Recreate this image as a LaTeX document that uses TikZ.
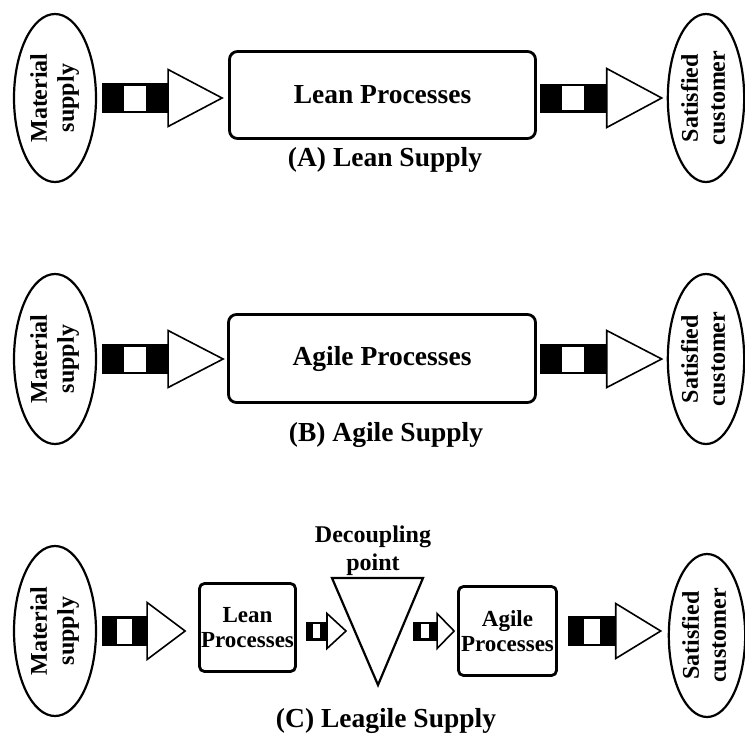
\documentclass[tikz,border=0pt]{standalone}
\usepackage{fontspec}
\setmainfont{Liberation Serif}
\usetikzlibrary{calc,shapes.geometric}

\newcommand{\flowarrow}[5]{%
  \fill let \p1=#1, \p2=#2, \n1={\x2-#5pt} in
    (\x1,{\y1-#3pt}) rectangle (\n1,{\y1+#3pt});
  \fill[white] let \p1=#1, \p2=#2, \n1={\x2-#5pt}, \n2={(\n1-\x1)/3} in
    ({\x1+\n2},{\y1-#3pt+2.5pt}) rectangle ({\x1+2*\n2},{\y1+#3pt-2.5pt});
  \filldraw[fill=white,line width=1.6pt,line join=miter] let \p1=#1, \p2=#2, \n1={\x2-#5pt} in
    (\n1,{\y1+#4pt}) -- (\x2,\y1) -- (\n1,{\y1-#4pt}) -- cycle;}

\begin{document}
\begin{tikzpicture}[x=1pt,y=-1pt,
  endpoint/.style={draw,ellipse,line width=2.2pt,inner sep=0pt,minimum width=82pt,minimum height=168pt,
    font=\fontsize{24}{27}\selectfont\bfseries},
  procbox/.style={draw,rounded corners=8pt,line width=2.8pt,minimum width=306pt,minimum height=87pt,
    font=\fontsize{27.5}{30}\selectfont\bfseries},
  smallbox/.style={draw,rounded corners=5pt,line width=2.8pt,inner sep=0pt,align=center,minimum width=96pt,
    minimum height=88pt,font=\fontsize{23}{25}\selectfont\bfseries},
  caption/.style={font=\fontsize{27.5}{30}\selectfont\bfseries}]
  \useasboundingbox (0,0) rectangle (745,740);
  % (A)
  \node[endpoint] (ms1) at (55,98) {\rotatebox{90}{\begin{tabular}{@{}c@{}}Material\\supply\end{tabular}}};
  \node[procbox] (lp1) at (382.5,95) {Lean Processes};
  \node[endpoint,minimum width=74pt] (sc1) at (706,98) {\rotatebox{90}{\begin{tabular}{@{}c@{}}Satisfied\\customer\end{tabular}}};
  \node[caption] (capa) at (385,160) {(A) Lean Supply};
  \flowarrow{($(ms1.east)+(5,0)$)}{($(lp1.west)+(-6,0)$)}{15}{28.5}{54}
  \flowarrow{($(lp1.east|-ms1)+(3,0)$)}{($(sc1.west)+(-5,0)$)}{14.5}{29.5}{55}
  % (B)
  \node[endpoint,minimum height=170pt] (ms2) at (55,359) {\rotatebox{90}{\begin{tabular}{@{}c@{}}Material\\supply\end{tabular}}};
  \node[procbox,minimum width=307pt,minimum height=88pt] (ap2) at (382,358.5) {Agile Processes};
  \node[endpoint,minimum width=74pt,minimum height=170pt] (sc2) at (706,359) {\rotatebox{90}{\begin{tabular}{@{}c@{}}Satisfied\\customer\end{tabular}}};
  \node[caption] (capb) at (386,435) {(B) Agile Supply};
  \flowarrow{($(ms2.east)+(5,0)$)}{($(ap2.west)+(-4,0)$)}{15}{28.5}{55}
  \flowarrow{($(ap2.east|-ms2)+(3,0)$)}{($(sc2.west)+(-5,0)$)}{15}{28.5}{55}
  % (C)
  \node[endpoint,minimum height=170pt] (ms3) at (55,631) {\rotatebox{90}{\begin{tabular}{@{}c@{}}Material\\supply\end{tabular}}};
  \node[smallbox] (lp3) at (247.5,627.5) {Lean\\Processes};
  \coordinate (dpa) at (332,578);
  \coordinate (dpb) at (423,578);
  \coordinate (dpc) at (378,685);
  \draw[line width=2.2pt,line join=miter] (dpa) -- (dpb) -- (dpc) -- cycle;
  \coordinate (dpin) at (346,631);
  \coordinate (dpout) at (413,631);
  \node[font=\fontsize{24}{28}\selectfont\bfseries,align=center] (dplabel) at (373,551) {Decoupling\\point};
  \node[smallbox,minimum width=98pt,minimum height=89pt] (ap3) at (507.5,631) {Agile\\Processes};
  \node[endpoint,minimum width=72pt,minimum height=163pt] (sc3) at (707,635.5) {\rotatebox{90}{\begin{tabular}{@{}c@{}}Satisfied\\customer\end{tabular}}};
  \node[caption] (capc) at (386,721) {(C) Leagile Supply};
  \flowarrow{($(ms3.east)+(5,0)$)}{($(lp3.west|-ms3)+(-13,0)$)}{15}{28.5}{38}
  \flowarrow{($(lp3.east|-ms3)+(9,0)$)}{(dpin)}{9.5}{17.5}{19}
  \flowarrow{(dpout)}{($(ap3.west)+(-3,0)$)}{9.5}{17.5}{17}
  \flowarrow{($(ap3.east)+(10,0)$)}{($(sc3.west|-ms3)+(-7,0)$)}{15}{27.5}{45}
\end{tikzpicture}
\end{document}
